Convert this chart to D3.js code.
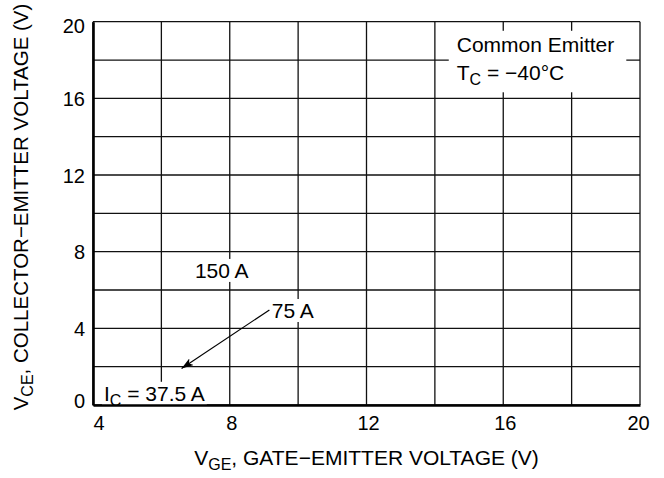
<!DOCTYPE html>
<html>
<head>
<meta charset="utf-8">
<script src="https://cdn.jsdelivr.net/npm/d3@7"></script>
<style>
  html, body { margin: 0; padding: 0; background: #fff; }
  svg { display: block; font-family: "Liberation Sans", Arial, Helvetica, sans-serif; }
</style>
</head>
<body>
<svg id="chart" width="664" height="478"></svg>
<script>
// ---- data ----
const xDomain = [4, 20];           // VGE (V)
const yDomain = [0, 20];           // VCE (V)
const xTicks = [4, 8, 12, 16, 20];
const yTicks = [0, 4, 8, 12, 16, 20];
const xGrid = [4, 6, 8, 10, 12, 14, 16, 18, 20];
const yGrid = [0, 2, 4, 6, 8, 10, 12, 14, 16, 18, 20];
// curve labels (data coordinates in volts)
const labelText = ["150 A", "75 A"];
const labelX = [6.98, 9.23];
const labelY = [6.63, 4.54];
// arrow from "75 A" label toward its curve
const arrowFrom = [9.16, 4.96];
const arrowTo = [6.59, 1.91];
// IC = 37.5 A label
const icLabelPos = [4.32, 0.22];
// condition text
const condPos = [14.64, 18.43];

const xTitle = "GATE\u2212EMITTER VOLTAGE (V)";
const yTitle = "COLLECTOR\u2212EMITTER VOLTAGE (V)";

// ---- layout ----
const svg = d3.select("#chart");
const L = 93, R = 640, T = 21.7, B = 405;
const x = d3.scaleLinear().domain(xDomain).range([L, R]);
const y = d3.scaleLinear().domain(yDomain).range([B, T]);

// grid
const grid = svg.append("g").attr("stroke", "#111").attr("stroke-width", 1.3);
grid.selectAll("line.v").data(xGrid).join("line")
  .attr("x1", d => x(d)).attr("x2", d => x(d)).attr("y1", T).attr("y2", B);
grid.selectAll("line.h").data(yGrid).join("line")
  .attr("y1", d => y(d)).attr("y2", d => y(d)).attr("x1", L).attr("x2", R);

// annotation layer with white knockout boxes
const ann = svg.append("g");
const FS = 21;

function knock(textSel, padL, padR, padT, padB) {
  const bb = textSel.node().getBBox();
  ann.insert("rect", ":first-child")
    .attr("x", bb.x - padL).attr("y", bb.y - padT)
    .attr("width", bb.width + padL + padR).attr("height", bb.height + padT + padB)
    .attr("fill", "#fff");
}

// condition text
const cond = ann.append("text").attr("font-size", FS).attr("fill", "#000");
cond.append("tspan").attr("x", x(condPos[0])).attr("y", y(condPos[1])).text("Common Emitter");
const l2 = cond.append("tspan").attr("x", x(condPos[0])).attr("y", y(condPos[1]) + 28.5);
l2.append("tspan").text("T");
l2.append("tspan").attr("font-size", 16).attr("dy", 5).text("C");
l2.append("tspan").attr("dy", -5).text(" = \u221240\u00B0C");
knock(cond, 8, 12, 2, 4);

// curve labels
labelText.forEach((t, i) => {
  const tx = ann.append("text").attr("font-size", FS).attr("fill", "#000")
    .attr("x", x(labelX[i])).attr("y", y(labelY[i])).text(t);
  knock(tx, 2, 2, 0, 0);
});

// IC label
const ic = ann.append("text").attr("font-size", FS).attr("fill", "#000")
  .attr("x", x(icLabelPos[0])).attr("y", y(icLabelPos[1]));
ic.append("tspan").text("I");
ic.append("tspan").attr("font-size", 16).attr("dy", 5).text("C");
ic.append("tspan").attr("dy", -5).text(" = 37.5 A");
knock(ic, 2, 2, 0, -3);

// arrow
svg.append("defs").append("marker")
  .attr("id", "arr").attr("viewBox", "0 0 12 8").attr("refX", 12).attr("refY", 4)
  .attr("markerWidth", 12).attr("markerHeight", 8).attr("markerUnits", "userSpaceOnUse")
  .attr("orient", "auto")
  .append("path").attr("d", "M0,0 L12,4 L0,8 L3,4 Z").attr("fill", "#000");
svg.append("line")
  .attr("x1", x(arrowFrom[0])).attr("y1", y(arrowFrom[1]))
  .attr("x2", x(arrowTo[0])).attr("y2", y(arrowTo[1]))
  .attr("stroke", "#000").attr("stroke-width", 1.2)
  .attr("marker-end", "url(#arr)");

// axes
const xAxis = svg.append("g").attr("transform", `translate(0,${B})`)
  .call(d3.axisBottom(x).tickValues(xTicks).tickSize(0).tickPadding(0));
xAxis.select(".domain").attr("stroke", "#000").attr("stroke-width", 2.6);
xAxis.selectAll(".tick text")
  .attr("font-size", 20).attr("font-family", "Liberation Sans, Arial, sans-serif")
  .attr("fill", "#000").attr("y", 25).attr("dy", 0)
  .attr("dx", d => d === 4 ? 5.5 : (d === 20 ? -2 : 1.5));

const yAxis = svg.append("g").attr("transform", `translate(${L},0)`)
  .call(d3.axisLeft(y).tickValues(yTicks).tickSize(0).tickPadding(0));
yAxis.select(".domain").attr("stroke", "#000").attr("stroke-width", 2.6);
yAxis.selectAll(".tick text")
  .attr("font-size", 20).attr("font-family", "Liberation Sans, Arial, sans-serif")
  .attr("fill", "#000").attr("x", -8)
  .attr("dy", d => d === 20 ? "0.52em" : (d === 0 ? "0.1em" : "0.35em"));

// axis titles
const xt = svg.append("text").attr("font-size", FS).attr("fill", "#000")
  .attr("text-anchor", "middle").attr("x", (L + R) / 2).attr("y", 465);
xt.append("tspan").text("V");
xt.append("tspan").attr("font-size", 16).attr("dy", 5).text("GE");
xt.append("tspan").attr("dy", -5).text(", " + xTitle);

const yt = svg.append("text").attr("font-size", 20.5).attr("fill", "#000")
  .attr("text-anchor", "middle")
  .attr("transform", `translate(28,${207}) rotate(-90)`);
yt.append("tspan").text("V");
yt.append("tspan").attr("font-size", 16).attr("dy", 5).text("CE");
yt.append("tspan").attr("dy", -5).text(", " + yTitle);
</script>
</body>
</html>
